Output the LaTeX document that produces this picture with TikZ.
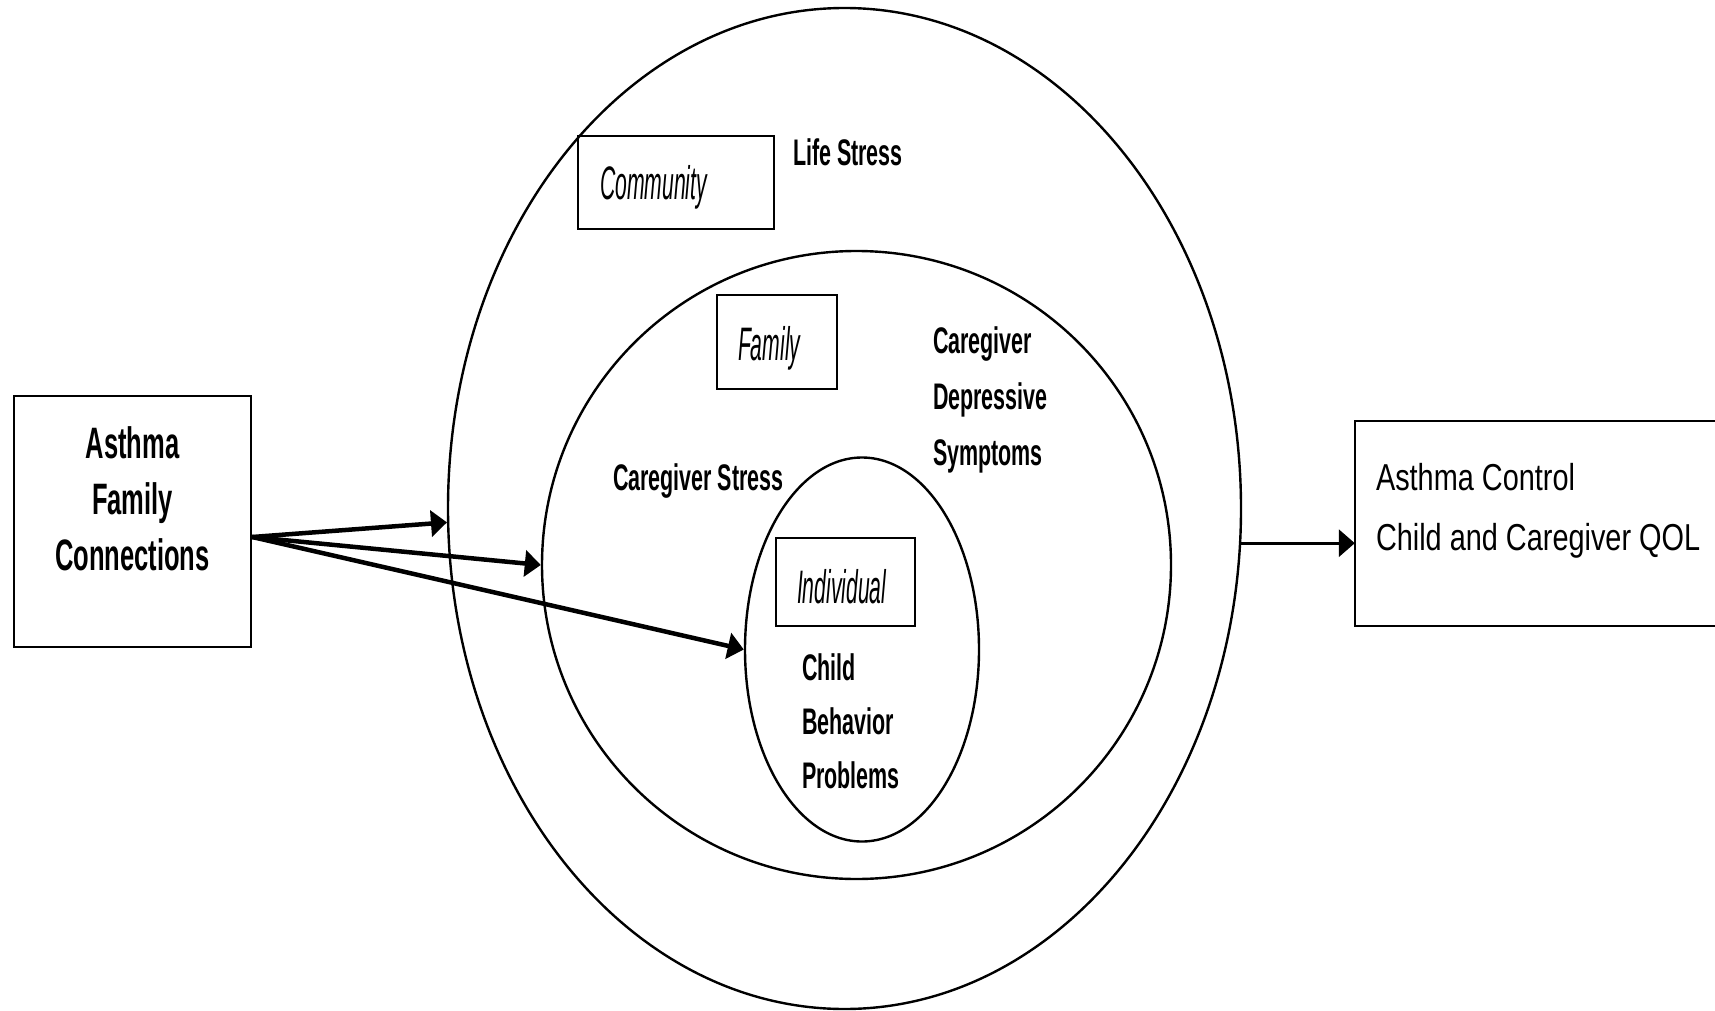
\documentclass[tikz,border=0pt]{standalone}
\usepackage{fontspec}
\setmainfont{Liberation Sans}
\newfontfamily\fbold{Liberation Sans}[FakeStretch=0.58]
\newfontfamily\fital{Liberation Sans}[FakeStretch=0.45]
\newfontfamily\freg{Liberation Sans}[FakeStretch=0.77]
\usetikzlibrary{shapes.geometric,arrows.meta}
\begin{document}
\begin{tikzpicture}[x=1pt,y=-1pt,
  ring/.style={ellipse,draw,line width=2.4pt,inner sep=0pt},
  framebox/.style={rectangle,draw,line width=2.4pt,inner sep=0pt},
  lbl/.style={inner sep=0pt,outer sep=0pt,align=left},
  boldlbl/.style={lbl,font=\fbold\bfseries\fontsize{37}{56}\selectfont},
  bigbold/.style={lbl,align=center,font=\fbold\bfseries\fontsize{44}{56}\selectfont},
  itlbl/.style={lbl,font=\fital\itshape\fontsize{47}{56}\selectfont},
  reglbl/.style={lbl,font=\freg\fontsize{37.5}{60}\selectfont},
  link/.style={line width=4.5pt,-{Triangle[length=16pt,width=26pt]}},
  outlink/.style={line width=3.3pt,-{Triangle[length=16pt,width=27pt]}}]
\useasboundingbox (0,0) rectangle (1715,1011);

% nested levels
\node[ring,minimum width=793pt,minimum height=1001pt] (outer) at (844.5,508.5) {};
\node[ring,minimum width=629pt,minimum height=628pt] (middle) at (856.5,565) {};
\node[ring,minimum width=234pt,minimum height=384pt] (inner) at (862,649.5) {};

% level boxes
\node[framebox,minimum width=196pt,minimum height=93pt] (community) at (676,182.5) {};
\node[framebox,minimum width=120pt,minimum height=94pt] (family) at (777,342) {};
\node[framebox,minimum width=139pt,minimum height=88pt] (individual) at (845.5,582) {};

\node[itlbl,anchor=base west] (communitytxt) at (600,200) {Community};
\node[itlbl,anchor=base west] (familytxt) at (738,360) {Family};
\node[itlbl,anchor=base west] (individualtxt) at (797,603) {Individual};

% level contents (multi-line labels are placed by their last baseline)
\node[boldlbl,anchor=base west] (life) at (793,166) {Life Stress};
\node[boldlbl,anchor=base west] (cgdep) at (933,465) {Caregiver\\Depressive\\Symptoms};
\node[boldlbl,anchor=base west] (cgstress) at (613,490) {Caregiver Stress};
\node[boldlbl,anchor=base west,font=\fbold\bfseries\fontsize{37}{54}\selectfont] (child) at (802,788) {Child\\Behavior\\Problems};

% intervention and outcomes
\node[framebox,minimum width=237pt,minimum height=251pt] (afc) at (132.5,521.5) {};
\node[bigbold,anchor=base] (afctxt) at (132.5,570) {Asthma\\Family\\Connections};

\node[rectangle,inner sep=0pt,minimum width=360pt,minimum height=205pt] (qol) at (1535,523.5) {};
\draw[line width=2.4pt] (qol.north east) -- (qol.north west) -- (qol.south west) -- (qol.south east);
\node[reglbl,anchor=base west] (qoltxt) at (1376,550) {Asthma Control\\Child and Caregiver QOL};

% connectors
\coordinate (src) at ([yshift=-15.5pt]afc.east);
\draw[link] (src) -- (outer.182.4);
\draw[link] (src) -- (middle.west);
\draw[link] (src) -- (inner.west);
\draw[outlink] (outer.-5.5) -- (outer.-5.5 -| qol.west);
\end{tikzpicture}
\end{document}
